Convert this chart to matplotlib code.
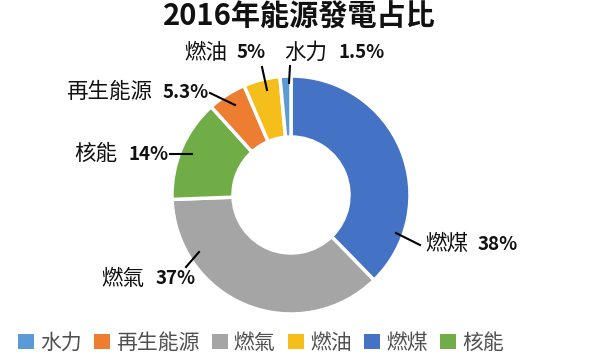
import matplotlib.pyplot as plt
from matplotlib.patches import Patch

plt.rcParams['font.family'] = ['Noto Sans CJK TC', 'DejaVu Sans']

# 資料（順時針，由正上方開始）
sources = ['燃煤', '燃氣', '核能', '再生能源', '燃油', '水力']
shares = [38, 37, 14, 5.3, 5, 1.5]
pct_text = ['38%', '37%', '14%', '5.3%', '5%', '1.5%']
colors = {'水力': '#5B9BD5', '再生能源': '#ED7D31', '燃氣': '#A5A5A5',
          '燃油': '#F6BE1A', '燃煤': '#4472C4', '核能': '#70AD47'}
legend_order = ['水力', '再生能源', '燃氣', '燃油', '燃煤', '核能']

# 標籤位置 (像素座標): 名稱x, 百分比x, y, 引線起點, 引線終點
label_pos = {
    '燃煤': (425, 478, 244, (420, 245), (396, 233)),
    '燃氣': (101, 156, 279, (186, 267), (199, 252)),
    '核能': (74, 128, 154, (170, 154), (192, 154)),
    '再生能源': (66, 163, 92, (210, 93), (235, 105)),
    '燃油': (184, 237, 53, (262, 67), (267, 90)),
    '水力': (284, 338, 53, (290, 66), (289, 83)),
}

fig = plt.figure(figsize=(6, 3.57), dpi=100)
ax = fig.add_axes([0, 0, 1, 1])

ax.pie(shares, colors=[colors[s] for s in sources], startangle=-90,
       counterclock=True, center=(291, 195), radius=119, frame=True,
       wedgeprops=dict(width=61, edgecolor='white', linewidth=2.5))
ax.set_xlim(0, 600)
ax.set_ylim(357, 0)  # y 軸反向，所以角度方向也反過來
ax.set_aspect('equal')
ax.axis('off')

for name, pct in zip(sources, pct_text):
    nx, px, y, p0, p1 = label_pos[name]
    ax.text(nx, y, name, ha='left', va='center', fontsize=15.5, color='#111111')
    ax.text(px, y, pct, ha='left', va='center', fontsize=13.5,
            fontweight='bold', color='#111111')
    ax.plot([p0[0], p1[0]], [p0[1], p1[1]], color='black', lw=1.5)

ax.text(299, 17, '2016年能源發電占比', ha='center', va='center',
        fontsize=21, fontweight='bold', color='#111111')

handles = [Patch(facecolor=colors[s], edgecolor='none') for s in legend_order]
fig.legend(handles, legend_order, loc='center', bbox_to_anchor=(261 / 600, 1 - 343 / 357),
           ncol=6, frameon=False, fontsize=15, handlelength=0.75, handleheight=0.75,
           handletextpad=0.3, columnspacing=0.6, labelcolor='#505050')

plt.savefig('out.png', dpi=100)
